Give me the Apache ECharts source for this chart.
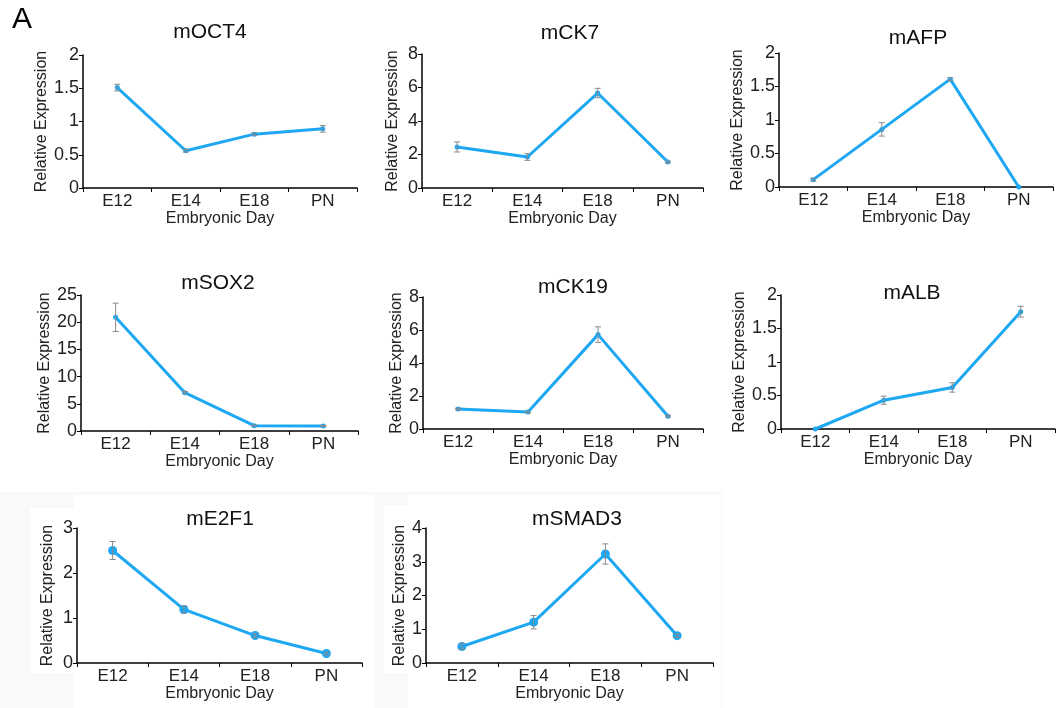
<!DOCTYPE html>
<html>
<head>
  <meta charset="utf-8">
  <script src="https://cdn.jsdelivr.net/npm/echarts@6/dist/echarts.min.js"></script>
  <style>
    html, body { margin: 0; padding: 0; background: #fff; }
    #main { width: 1057px; height: 708px; }
  </style>
</head>
<body>
  <div id="main"></div>
  <script type="text/javascript">
    // 横轴：胚胎天数
    var days = ['E12', 'E14', 'E18', 'PN'];

    // 各基因的相对表达量 + 误差
    var oct4 = [1.51, 0.56, 0.81, 0.89];
    var oct4Err = [0.05, 0.02, 0.02, 0.05];
    var ck7 = [2.45, 1.85, 5.67, 1.55];
    var ck7Err = [0.3, 0.2, 0.28, 0.05];
    var afp = [0.11, 0.86, 1.61, 0];
    var afpErr = [0.02, 0.1, 0.02, 0];
    var sox2 = [20.9, 7.05, 0.98, 0.92];
    var sox2Err = [2.6, 0.2, 0.1, 0.1];
    var ck19 = [1.21, 1.03, 5.72, 0.77];
    var ck19Err = [0.05, 0.05, 0.47, 0.05];
    var alb = [0, 0.43, 0.62, 1.75];
    var albErr = [0, 0.06, 0.07, 0.08];
    var e2f1 = [2.5, 1.19, 0.61, 0.21];
    var e2f1Err = [0.2, 0.08, 0.04, 0.03];
    var smad3 = [0.49, 1.21, 3.23, 0.81];
    var smad3Err = [0.08, 0.2, 0.3, 0.05];

    // 纵轴范围
    var yMax = [2, 8, 2, 25, 8, 2, 3, 4];
    var yStep = [0.5, 2, 0.5, 5, 2, 0.5, 1, 1];

    var panels = [
      { title: 'mOCT4', vals: oct4, err: oct4Err, grid: [83, 55, 274, 133], tx: 210, ty: 32, gap: 31, sym: 5 },
      { title: 'mCK7', vals: ck7, err: ck7Err, grid: [422, 54, 281, 134], tx: 570, ty: 33, gap: 21, sym: 5 },
      { title: 'mAFP', vals: afp, err: afpErr, grid: [779, 53, 274, 134], tx: 918, ty: 38, gap: 30, sym: 5 },
      { title: 'mSOX2', vals: sox2, err: sox2Err, grid: [81, 295, 277, 136], tx: 218, ty: 283, gap: 27, sym: 5 },
      { title: 'mCK19', vals: ck19, err: ck19Err, grid: [423, 297, 280, 132], tx: 573, ty: 287, gap: 17, sym: 5 },
      { title: 'mALB', vals: alb, err: albErr, grid: [781, 295, 274, 134], tx: 912, ty: 293, gap: 27, sym: 5 },
      { title: 'mE2F1', vals: e2f1, err: e2f1Err, grid: [77, 528, 285, 135], tx: 220, ty: 519, gap: 21, sym: 9 },
      { title: 'mSMAD3', vals: smad3, err: smad3Err, grid: [426, 528, 287, 135], tx: 577, ty: 519, gap: 15, sym: 9 }
    ];

    var lineColor = '#1ea7f2';
    var fontFam = '"Liberation Sans", Arial, sans-serif';

    function errorBar(params, api) {
      var x = api.value(0);
      var top = api.coord([x, api.value(2)]);
      var bot = api.coord([x, api.value(1)]);
      var w = 3;
      var st = { stroke: '#8a8a8a', lineWidth: 1 };
      return {
        type: 'group',
        children: [
          { type: 'line', shape: { x1: top[0], y1: top[1], x2: bot[0], y2: bot[1] }, style: st },
          { type: 'line', shape: { x1: top[0] - w, y1: top[1], x2: top[0] + w, y2: top[1] }, style: st },
          { type: 'line', shape: { x1: bot[0] - w, y1: bot[1], x2: bot[0] + w, y2: bot[1] }, style: st }
        ]
      };
    }

    var grids = [], xAxes = [], yAxes = [], series = [];
    // 底部一排的浅灰底和白块
    var graphics = [
      { type: 'rect', shape: { x: 0, y: 492, width: 722, height: 216 }, style: { fill: '#f9f9f9' }, z: -10 },
      { type: 'rect', shape: { x: 74, y: 495, width: 300, height: 213 }, style: { fill: '#fff' }, z: -9 },
      { type: 'rect', shape: { x: 30, y: 508, width: 44, height: 165 }, style: { fill: '#fff' }, z: -9 },
      { type: 'rect', shape: { x: 408, y: 495, width: 313, height: 213 }, style: { fill: '#fff' }, z: -9 },
      { type: 'rect', shape: { x: 384, y: 505, width: 24, height: 168 }, style: { fill: '#fff' }, z: -9 },
      { type: 'text', x: 22, y: 20, style: { text: 'A', align: 'center', verticalAlign: 'middle', fontSize: 30, fontFamily: fontFam, fill: '#000' } }
    ];

    panels.forEach(function (p, i) {
      grids.push({ left: p.grid[0], top: p.grid[1], width: p.grid[2], height: p.grid[3], containLabel: false });
      xAxes.push({
        type: 'category', gridIndex: i, data: days, boundaryGap: true,
        name: 'Embryonic Day', nameLocation: 'middle', nameGap: 23,
        nameTextStyle: { fontSize: 16, color: '#222', fontFamily: fontFam },
        axisLine: { lineStyle: { color: '#000', width: 1.5 } },
        axisTick: { show: true, length: 4, lineStyle: { color: '#000' } },
        axisLabel: { fontSize: 17, color: '#222', margin: 5, fontFamily: fontFam }
      });
      yAxes.push({
        type: 'value', gridIndex: i, min: 0, max: yMax[i], interval: yStep[i],
        name: 'Relative Expression', nameLocation: 'middle', nameGap: p.gap,
        nameTextStyle: { fontSize: 16, color: '#222', fontFamily: fontFam },
        axisLine: { show: true, lineStyle: { color: '#000', width: 1.5 } },
        axisTick: { show: true, length: 4, lineStyle: { color: '#000' } },
        axisLabel: { fontSize: 18, color: '#222', margin: 4, fontFamily: fontFam },
        splitLine: { show: false }
      });
      series.push({
        type: 'line', xAxisIndex: i, yAxisIndex: i, data: p.vals,
        symbol: 'circle', symbolSize: p.sym, showSymbol: true,
        lineStyle: { color: lineColor, width: 3 },
        itemStyle: { color: lineColor },
        z: 3, animation: false
      });
      var errData = [];
      p.vals.forEach(function (v, k) {
        if (p.err[k] > 0) errData.push([k, v - p.err[k], v + p.err[k]]);
      });
      series.push({
        type: 'custom', xAxisIndex: i, yAxisIndex: i, data: errData,
        renderItem: errorBar, z: 4, animation: false
      });
      graphics.push({
        type: 'text', x: p.tx, y: p.ty,
        style: { text: p.title, align: 'center', verticalAlign: 'middle', fontSize: 21, fontFamily: fontFam, fill: '#111' }
      });
    });

    var myChart = echarts.init(document.getElementById('main'));
    myChart.setOption({
      animation: false,
      grid: grids,
      xAxis: xAxes,
      yAxis: yAxes,
      series: series,
      graphic: graphics
    });
  </script>
</body>
</html>
